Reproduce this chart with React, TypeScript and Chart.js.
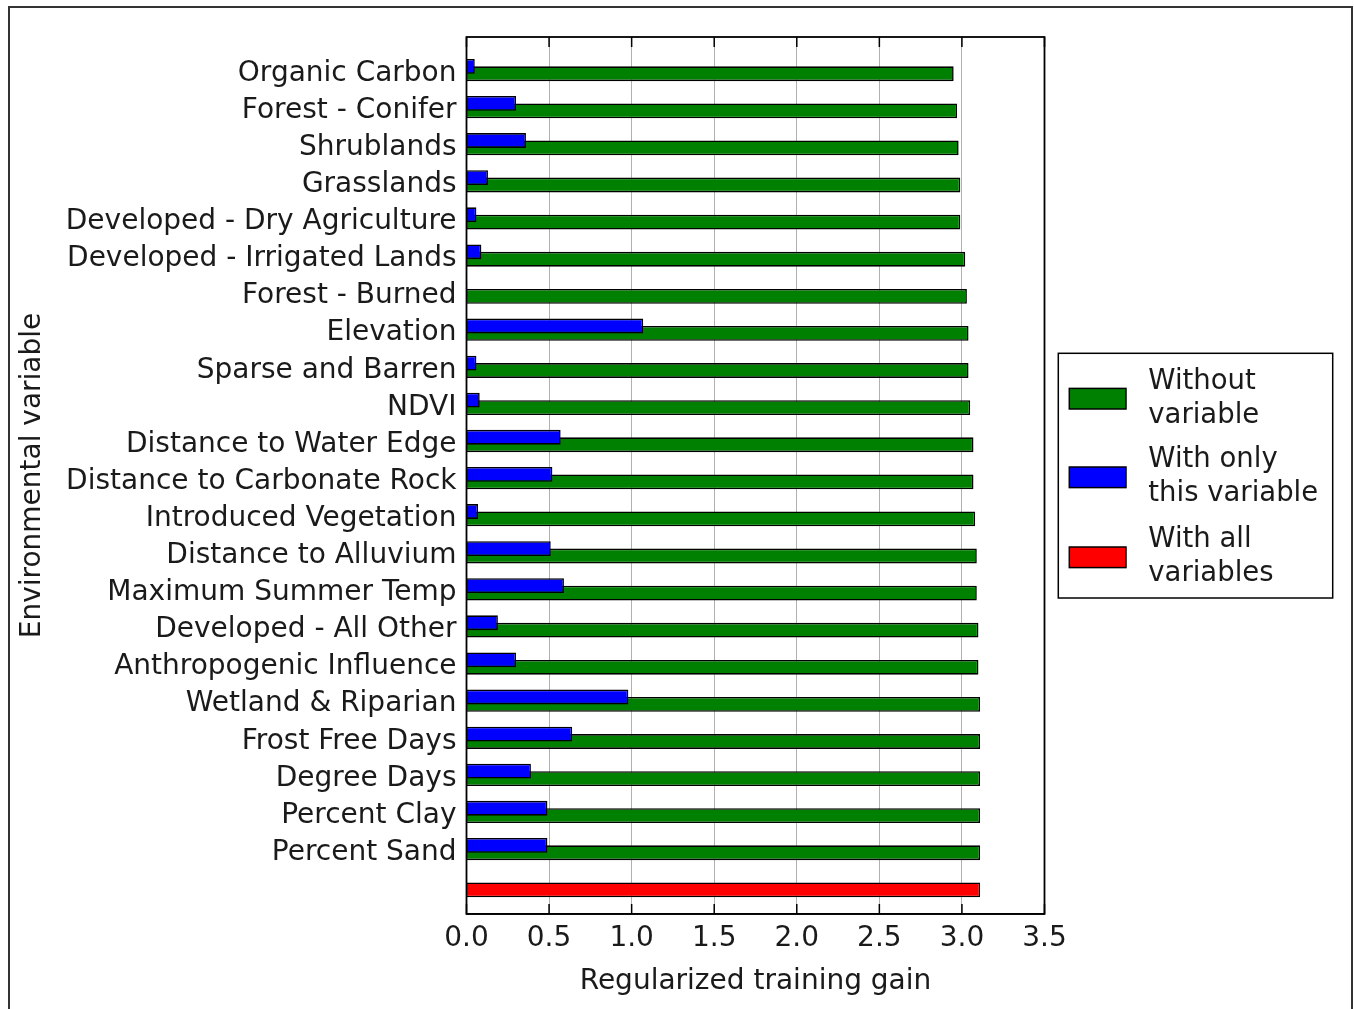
import React, { useEffect, useRef } from 'react';
import { Chart, registerables } from 'chart.js';

Chart.register(...registerables);

// ---------- data ----------
const variables: string[] = [
  'Organic Carbon',
  'Forest - Conifer',
  'Shrublands',
  'Grasslands',
  'Developed - Dry Agriculture',
  'Developed - Irrigated Lands',
  'Forest - Burned',
  'Elevation',
  'Sparse and Barren',
  'NDVI',
  'Distance to Water Edge',
  'Distance to Carbonate Rock',
  'Introduced Vegetation',
  'Distance to Alluvium',
  'Maximum Summer Temp',
  'Developed - All Other',
  'Anthropogenic Influence',
  'Wetland & Riparian',
  'Frost Free Days',
  'Degree Days',
  'Percent Clay',
  'Percent Sand',
];

const withoutVariable: number[] = [
  2.95, 2.97, 2.98, 2.99, 2.99, 3.02, 3.03, 3.04, 3.04, 3.05, 3.07,
  3.07, 3.08, 3.09, 3.09, 3.1, 3.1, 3.11, 3.11, 3.11, 3.11, 3.11,
];

const withOnlyVariable: number[] = [
  0.05, 0.3, 0.36, 0.13, 0.06, 0.09, 0.005, 1.07, 0.06, 0.08, 0.57,
  0.52, 0.07, 0.51, 0.59, 0.19, 0.3, 0.98, 0.64, 0.39, 0.49, 0.49,
];

const withAllVariables: number[] = [3.11];

const xTickValues: number[] = [0, 0.5, 1, 1.5, 2, 2.5, 3, 3.5];

const legendLines: string[][] = [
  ['Without', 'variable'],
  ['With only', 'this variable'],
  ['With all', 'variables'],
];

const xTitle = 'Regularized training gain';
const yTitle = 'Environmental variable';

// ---------- styles ----------
const FONT_FAMILY = "'DejaVu Sans', sans-serif";
const FONT_SIZE = 28;
const GREEN = '#008000';
const BLUE = '#0000ff';
const RED = '#ff0000';

const framePlugin = {
  id: 'frameAndLegend',
  afterDraw(chart: any) {
    const { ctx, chartArea } = chart;
    const xs = chart.scales.x;
    ctx.save();
    // inward x ticks (top and bottom)
    ctx.strokeStyle = '#000';
    ctx.lineWidth = 1.5;
    const tl = 10;
    xTickValues.forEach((v) => {
      const px = xs.getPixelForValue(v);
      ctx.beginPath();
      ctx.moveTo(px, chartArea.bottom);
      ctx.lineTo(px, chartArea.bottom - tl);
      ctx.moveTo(px, chartArea.top);
      ctx.lineTo(px, chartArea.top + tl);
      ctx.stroke();
    });
    // axes frame
    ctx.lineWidth = 1.8;
    ctx.strokeRect(
      chartArea.left,
      chartArea.top,
      chartArea.right - chartArea.left,
      chartArea.bottom - chartArea.top
    );

    // legend
    const colors = chart.data.datasets.map((d: any) => d.backgroundColor);
    const order = [1, 0, 2]; // green, blue, red
    const boxX = 1048.3;
    const boxY = 345.3;
    const boxW = 274.4;
    const boxH = 244.7;
    ctx.fillStyle = '#fff';
    ctx.fillRect(boxX, boxY, boxW, boxH);
    ctx.strokeStyle = '#000';
    ctx.lineWidth = 1.5;
    ctx.strokeRect(boxX, boxY, boxW, boxH);
    ctx.font = `27.5px ${FONT_FAMILY}`;
    ctx.textBaseline = 'middle';
    ctx.textAlign = 'left';
    const centers = [390.7, 469.3, 549.3];
    legendLines.forEach((lines, i) => {
      const cy = centers[i];
      ctx.fillStyle = colors[order[i]];
      ctx.fillRect(1059.3, cy - 10.3, 56.7, 20.6);
      ctx.strokeStyle = '#000';
      ctx.lineWidth = 1.5;
      ctx.strokeRect(1059.3, cy - 10.3, 56.7, 20.6);
      ctx.fillStyle = '#1a1a1a';
      ctx.fillText(lines[0], 1138.3, cy - 17);
      ctx.fillText(lines[1], 1138.3, cy + 17);
    });
    ctx.restore();
  },
};

export default function App() {
  const ref = useRef<HTMLCanvasElement | null>(null);

  useEffect(() => {
    if (!ref.current) return;
    const font = { family: FONT_FAMILY, size: FONT_SIZE };
    const yPositions = variables.map((_, i) => i).concat([variables.length]);

    const chart = new Chart(ref.current, {
      type: 'bar',
      data: {
        datasets: [
          {
            label: 'With only this variable',
            data: withOnlyVariable.map((v, i) => ({ x: v, y: i })),
            backgroundColor: BLUE,
            borderColor: '#000',
            borderWidth: 1.6,
            stack: 'only',
            categoryPercentage: 0.4,
            barPercentage: 2.0,
          },
          {
            label: 'Without variable',
            data: withoutVariable.map((v, i) => ({ x: v, y: i })),
            backgroundColor: GREEN,
            borderColor: '#000',
            borderWidth: 1.6,
            stack: 'main',
            categoryPercentage: 0.4,
            barPercentage: 2.0,
          },
          {
            label: 'With all variables',
            data: withAllVariables.map((v) => ({ x: v, y: variables.length })),
            backgroundColor: RED,
            borderColor: '#000',
            borderWidth: 1.6,
            stack: 'main',
            categoryPercentage: 0.4,
            barPercentage: 2.0,
          },
        ],
      },
      options: {
        indexAxis: 'y',
        animation: false,
        responsive: false,
        maintainAspectRatio: false,
        layout: { padding: { left: 0, right: 306.5, top: 29, bottom: 0 } },
        plugins: {
          legend: { display: false },
          tooltip: { enabled: false },
        },
        scales: {
          y: {
            type: 'linear',
            reverse: true,
            offset: false,
            min: -0.89,
            max: variables.length + 0.75,
            afterBuildTicks: (s: any) => {
              s.ticks = yPositions.map((v) => ({ value: v }));
            },
            afterFit: (s: any) => {
              s.width = 456.5;
            },
            ticks: {
              autoSkip: false,
              font,
              color: '#1a1a1a',
              padding: 10,
              labelOffset: 3.5,
              callback: (v: any) => variables[v] ?? '',
            },
            grid: { display: false, drawTicks: false, offset: false },
            border: { display: false },
            title: {
              display: true,
              text: yTitle,
              font,
              color: '#1a1a1a',
              padding: { top: 5.5, bottom: 0 },
            },
          },
          x: {
            type: 'linear',
            min: 0,
            max: 3.5,
            stacked: false,
            afterBuildTicks: (s: any) => {
              s.ticks = xTickValues.map((v) => ({ value: v }));
            },
            afterFit: (s: any) => {
              s.height = 94;
            },
            ticks: {
              autoSkip: false,
              maxRotation: 0,
              font,
              color: '#1a1a1a',
              padding: 8,
              callback: (v: any) => Number(v).toFixed(1),
            },
            grid: { color: '#b0b0b0', lineWidth: 1, drawTicks: false },
            border: { display: true, color: '#000', width: 1.5 },
            title: {
              display: true,
              text: xTitle,
              font,
              color: '#1a1a1a',
              padding: { top: 0, bottom: 9.5 },
            },
          },
        },
      } as any,
      plugins: [framePlugin],
    });
    return () => chart.destroy();
  }, []);

  return (
    <div
      style={{
        position: 'fixed',
        left: 8,
        top: 6,
        width: 1345,
        height: 1015,
        border: '2px solid #333',
        boxSizing: 'border-box',
        background: '#fff',
        overflow: 'hidden',
      }}
    >
      <canvas
        ref={ref}
        width={1341}
        height={1000}
        style={{ position: 'absolute', left: 0, top: 0, width: 1341, height: 1000 }}
      />
    </div>
  );
}
